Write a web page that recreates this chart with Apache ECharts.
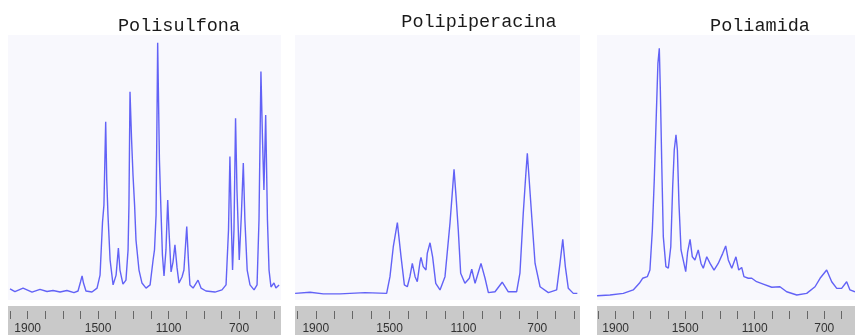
<!DOCTYPE html>
<html>
<head>
<meta charset="utf-8">
<script src="https://cdn.jsdelivr.net/npm/echarts@6/dist/echarts.min.js"></script>
<style>
  html, body { margin: 0; padding: 0; background: #ffffff; }
  #chart { width: 855px; height: 335px; }
</style>
</head>
<body>
<div id="chart"></div>
<script>
// Infrared spectra of three membrane polymers (wavenumber in cm-1, absorbance in arbitrary units)

const titles = ['Polisulfona', 'Polipiperacina', 'Poliamida'];

// Polisulfona
const polisulfonaWn = [2000, 1972, 1926, 1875, 1830, 1790, 1756, 1716, 1677, 1637, 1614, 1600, 1591, 1583, 1569, 1535, 1506, 1489, 1475, 1467, 1457, 1451, 1444, 1432, 1415, 1398, 1385, 1376, 1359, 1342, 1330, 1325, 1319, 1310, 1302, 1293, 1285, 1268, 1251, 1228, 1205, 1188, 1180, 1171, 1162, 1152, 1143, 1135, 1126, 1115, 1105, 1098, 1086, 1075, 1064, 1052, 1041, 1024, 1013, 997, 987, 979, 961, 933, 916, 888, 837, 797, 774, 760, 752, 743, 737, 729, 720, 712, 699, 687, 676, 667, 654, 638, 615, 598, 587, 576, 567, 559, 549, 539, 530, 519, 502, 491, 473];
const polisulfonaAbs = [4.2, 3.2, 4.5, 3.0, 4.0, 3.2, 3.6, 3.0, 3.6, 2.8, 3.4, 6.8, 9.1, 6.4, 3.4, 3.0, 4.5, 9.4, 29.4, 35.8, 67.3, 45.3, 32.1, 15.1, 5.7, 9.4, 19.6, 11.3, 6.0, 7.5, 18.9, 35.8, 78.6, 60.4, 47.2, 35.8, 22.6, 11.3, 6.4, 4.5, 5.7, 15.1, 18.9, 32.1, 97.1, 52.8, 33.2, 17.0, 9.1, 18.9, 37.7, 26.4, 10.6, 14.3, 20.8, 12.1, 6.4, 8.7, 11.3, 27.7, 14.3, 5.7, 4.5, 7.5, 4.5, 3.4, 3.0, 3.8, 5.7, 26.4, 54.1, 26.4, 11.3, 26.4, 68.6, 41.5, 15.1, 32.1, 51.7, 30.2, 11.3, 5.7, 3.8, 5.7, 30.2, 86.2, 60.4, 41.5, 69.8, 30.2, 11.3, 4.9, 6.4, 4.5, 5.7];

// Polipiperacina
const polipiperacinaWn = [2012, 1931, 1859, 1769, 1633, 1516, 1498, 1480, 1458, 1438, 1420, 1404, 1390, 1377, 1362, 1350, 1335, 1330, 1318, 1303, 1296, 1281, 1267, 1250, 1227, 1200, 1173, 1162, 1151, 1140, 1128, 1115, 1092, 1068, 1055, 1037, 1005, 983, 965, 929, 890, 857, 812, 794, 776, 763, 754, 745, 730, 712, 685, 640, 595, 577, 562, 548, 532, 505, 483];
const polipiperacinaAbs = [2.5, 2.9, 2.3, 2.3, 2.8, 2.5, 8.8, 20.1, 29.2, 16.3, 5.7, 5.0, 8.8, 13.8, 8.8, 6.9, 14.5, 16.1, 12.6, 11.3, 17.6, 21.6, 16.3, 6.3, 3.8, 8.8, 28.9, 39.0, 49.3, 39.0, 26.4, 10.1, 6.3, 8.2, 11.6, 6.3, 13.8, 8.2, 2.8, 3.1, 6.7, 3.1, 3.1, 10.1, 32.7, 46.5, 55.4, 46.5, 31.4, 13.8, 5.0, 2.8, 3.8, 13.8, 22.9, 12.6, 4.4, 2.5, 2.5];

// Poliamida
const poliamidaWn = [2007, 1933, 1856, 1799, 1764, 1745, 1718, 1703, 1689, 1678, 1666, 1657, 1649, 1643, 1635, 1626, 1611, 1597, 1583, 1572, 1563, 1553, 1545, 1536, 1524, 1497, 1486, 1472, 1459, 1444, 1425, 1409, 1396, 1376, 1357, 1334, 1310, 1284, 1267, 1252, 1232, 1208, 1192, 1175, 1162, 1137, 1117, 1089, 1051, 1002, 955, 916, 858, 801, 753, 724, 686, 657, 628, 600, 571, 552, 523];
const poliamidaAbs = [1.6, 1.9, 2.5, 3.8, 6.3, 8.2, 8.8, 11.3, 26.4, 45.3, 70.5, 89.3, 95.0, 79.2, 51.6, 23.9, 12.6, 12.0, 20.1, 42.8, 56.6, 62.3, 56.6, 36.5, 18.9, 10.7, 18.2, 22.9, 16.3, 15.1, 18.9, 13.8, 12.0, 16.3, 13.8, 11.3, 13.8, 17.6, 20.4, 15.1, 12.0, 16.3, 11.3, 12.3, 8.8, 8.2, 8.2, 6.9, 6.0, 4.8, 5.0, 3.1, 1.9, 2.5, 5.0, 8.2, 11.3, 6.9, 4.4, 4.4, 6.9, 3.8, 3.1];

// Scale ticks (every 100 cm-1) and the labelled ones
const tickValuesWide = [2000, 1900, 1800, 1700, 1600, 1500, 1400, 1300, 1200, 1100, 1000, 900, 800, 700, 600, 500];
const tickValuesNarrow = [2000, 1900, 1800, 1700, 1600, 1500, 1400, 1300, 1200, 1100, 1000, 900, 800, 700, 600];
const labelValues = [1900, 1500, 1100, 700];

// Panel layout: horizontal placement and wavenumber span of each spectrum
const panels = [
  { wn: polisulfonaWn, abs: polisulfonaAbs, left: 8, width: 273, max: 2011.4, min: 462.1, ticks: tickValuesWide, titleX: 174, titleY: 12 },
  { wn: polipiperacinaWn, abs: polipiperacinaAbs, left: 295, width: 285, max: 2012.5, min: 468.6, ticks: tickValuesWide, titleX: 474, titleY: 8 },
  { wn: poliamidaWn, abs: poliamidaAbs, left: 597, width: 258, max: 2007.5, min: 523, ticks: tickValuesNarrow, titleX: 755, titleY: 12 }
];

const zip = (xs, ys) => xs.map((x, i) => [x, ys[i]]);

const grid = [], xAxis = [], yAxis = [], series = [], title = [];

panels.forEach((p, i) => {
  // spectrum area
  grid.push({ left: p.left, width: p.width, top: 35, height: 265, show: true,
              backgroundColor: '#f8f8fd', borderWidth: 0 });
  // scale strip below
  grid.push({ left: p.left, width: p.width, top: 306, height: 29, show: true,
              backgroundColor: '#c9c9c9', borderWidth: 0 });

  const g = i * 2;
  xAxis.push({ gridIndex: g, type: 'value', inverse: true, min: p.min, max: p.max, show: false });
  yAxis.push({ gridIndex: g, type: 'value', min: 0, max: 100, show: false });

  // strip ticks + labels, hanging from just under the strip's top edge
  xAxis.push({
    gridIndex: g + 1, type: 'value', inverse: true, min: p.min, max: p.max,
    position: 'top', offset: -5,
    axisLine: { show: false, onZero: false },
    splitLine: { show: false },
    axisTick: { show: true, inside: true, length: 8, customValues: p.ticks,
                lineStyle: { color: '#666', width: 1 } },
    axisLabel: { show: true, inside: true, margin: 12, customValues: labelValues,
                 formatter: v => String(v),
                 fontFamily: 'Liberation Sans', fontSize: 12, color: '#333' }
  });
  yAxis.push({ gridIndex: g + 1, type: 'value', min: 0, max: 1, show: false });

  series.push({
    type: 'line', xAxisIndex: g, yAxisIndex: g,
    data: zip(p.wn, p.abs),
    showSymbol: false, smooth: false, clip: true,
    lineStyle: { color: '#4848f4', width: 1.4, opacity: 0.85 }
  });

  title.push({
    text: titles[i], left: p.titleX, top: p.titleY, textAlign: 'center',
    textStyle: { fontFamily: 'Liberation Mono', fontSize: 18.5, fontWeight: 'normal', color: '#1a1a1a' }
  });
});

const chart = echarts.init(document.getElementById('chart'), null, { renderer: 'canvas' });
chart.setOption({
  animation: false,
  backgroundColor: '#ffffff',
  title, grid, xAxis, yAxis, series
});
</script>
</body>
</html>
